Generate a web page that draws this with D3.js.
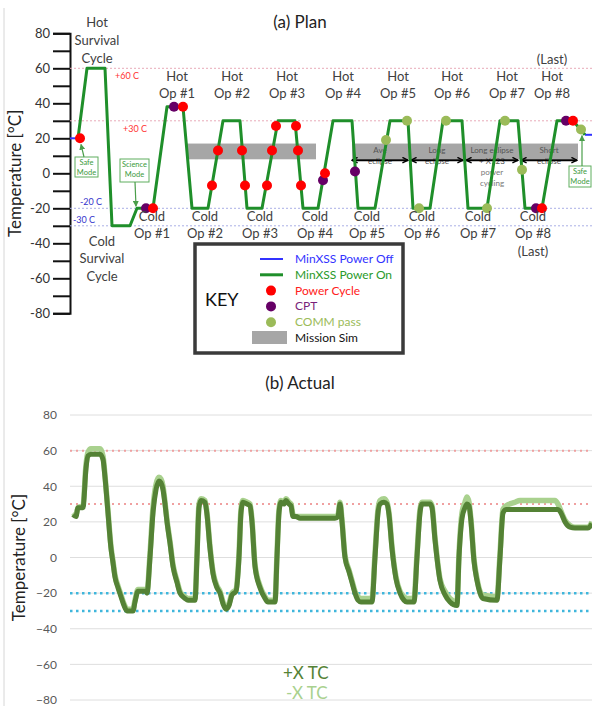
<!DOCTYPE html>
<html><head><meta charset="utf-8">
<script src="https://cdn.jsdelivr.net/npm/d3@7"></script>
<style>body{margin:0;background:#fff}svg{display:block;font-family:Lato,'Open Sans',sans-serif}</style>
</head><body><svg id="c" width="592" height="706"></svg>
<script>
// ---------------- DATA ----------------
const tempTicks = [-80, -60, -40, -20, 0, 20, 40, 60, 80];
const hotLimits = [60, 30];
const coldLimits = [-20, -30];
// (a) Plan: time (arbitrary units), temperature (°C)
const planPowerOff1 = [[0, 20], [8, 20]];
const planPowerOff2 = [[515, 22], [522, 22]];
const planPowerOn = [[8,20],[17,60],[35,60],[42,-30],[60,-30],[67,-20],[83,-20],[97,38],[113,38],[122,-20],[138,-20],[153,30],[170,30],[177,-20],[192,-20],[208,30],[225,30],[233,-20],[248,-20],[263,30],[282,30],[288,-20],[305,-20],[320,30],[338,30],[343,-20],[360,-20],[373,30],[392,30],[398,-20],[417,-20],[430,30],[448,30],[455,-20],[472,-20],[487,30],[503,30],[515,22]];
const powerCycle = [[10,20],[83,-20],[113,38],[142,-7],[148,13],[172,13],[175,-7],[197,-7],[202,13],[206,27],[226,27],[228,13],[231,-7],[255,0],[472,-20],[503,30]];
const cpt = [[76,-20],[104,38],[253,-4],[285,1],[466,-20],[496,30]];
const commPass = [[316,19],[337,30],[349,-20],[376,30],[417,-20],[435,30],[452,2],[511,25]];
const missionSim = [[117,246],[282,508]];
const missionSimTemp = [8, 17];
const eclipseArrows = [[282,338],[341,393],[396,448],[451,507]];
const eclipseLabels = [["Ave","eclipse"],["Long","eclipse"],["Long eclipse","+ X123","power","cycling"],["Short","eclipse"]];
const hotOps = ["Op #1","Op #2","Op #3","Op #4","Op #5","Op #6","Op #7","Op #8"];
const hotOpTime = [107,162,217,273,328,382,437,482];
const coldOps = ["Op #1","Op #2","Op #3","Op #4","Op #5","Op #6","Op #7","Op #8"];
const coldOpTime = [82,135,190,245,297,352,408,463];
const keyItems = ["MinXSS Power Off","MinXSS Power On","Power Cycle","CPT","COMM pass","Mission Sim"];
// (b) Actual
const plusXTC = [[3,24],[6,23],[8,28],[13,28],[16,50],[18,57],[21,58],[30,58],[33,55],[35,45],[38,25],[41,5],[43,-3],[45,-11],[48,-17],[51,-22],[54,-27],[57,-30],[63,-30],[65,-25],[68,-19],[76,-19],[77,-20],[80,0],[83,25],[86,38],[89,43],[91,42],[93,38],[95,30],[97,20],[100,8],[103,-5],[107,-14],[110,-20],[115,-23],[118,-24],[125,-24],[127,0],[129,28],[131,32],[135,31],[137,24],[140,5],[143,-9],[147,-17],[150,-20],[153,-26],[156,-29],[159,-27],[162,-21],[166,-19],[169,0],[171,25],[173,31],[177,30],[180,29],[182,20],[185,-5],[190,-17],[195,-23],[198,-25],[205,-25],[207,0],[209,25],[211,31],[214,30],[216,32],[219,30],[221,29],[223,23],[226,23],[230,22],[265,22],[268,23],[270,30],[272,20],[275,0],[279,-8],[282,-14],[285,-20],[288,-24],[291,-25],[302,-25],[305,0],[308,25],[310,30],[314,31],[317,30],[319,24],[322,5],[326,-12],[330,-20],[334,-24],[337,-25],[344,-25],[347,0],[350,25],[352,30],[360,30],[362,28],[365,10],[370,-13],[375,-21],[380,-25],[387,-27],[389,0],[392,22],[395,28],[397,30],[399,29],[401,20],[404,-2],[407,-13],[410,-20],[413,-23],[427,-24],[430,0],[433,25],[436,27],[450,27],[488,27],[491,25],[495,20],[500,17],[505,16.5],[518,16.5],[522,19]];
const minusXTC = [[3,25],[6,24],[8,28],[13,29],[16,52],[18,59],[21,61],[30,61],[33,57],[35,46],[38,26],[41,6],[43,-2],[45,-10],[48,-16],[51,-21],[54,-26],[57,-29],[63,-29],[65,-24],[68,-18],[76,-18],[77,-19],[80,2],[83,28],[86,41],[89,45],[91,44],[93,40],[95,31],[97,21],[100,9],[103,-4],[107,-13],[110,-19],[115,-22],[118,-23],[125,-23],[127,2],[129,30],[131,33],[135,32],[137,25],[140,6],[143,-8],[147,-16],[150,-19],[153,-25],[156,-28],[159,-26],[162,-20],[166,-18],[169,2],[171,27],[173,32],[177,31],[180,30],[182,21],[185,-4],[190,-16],[195,-22],[198,-24],[205,-24],[207,2],[209,27],[211,32],[214,31],[216,33],[219,31],[221,30],[223,24],[226,23],[230,23],[265,23],[268,24],[270,31],[272,21],[275,1],[279,-7],[282,-13],[285,-19],[288,-22],[291,-23],[302,-23],[305,2],[308,27],[310,32],[314,33],[317,31],[319,25],[322,6],[326,-11],[330,-19],[334,-22],[337,-23],[344,-23],[347,2],[350,27],[352,31],[360,31],[362,29],[365,11],[370,-12],[375,-19],[380,-23],[387,-25],[389,2],[392,25],[395,31],[397,34],[399,31],[401,21],[404,-1],[407,-12],[410,-19],[413,-21],[427,-22],[430,2],[433,27],[436,29],[445,31],[450,32],[485,32],[488,30],[491,26],[495,21],[500,18],[505,17],[518,17],[522,20]];

// ---------------- DRAW ----------------
const svg = d3.select("#c");
const C = {green:"#1f8f2a", blue:"#3232ff", red:"#ff0000", purple:"#660066", comm:"#9bbb59", gray:"#a6a6a6", text:"#404040"};
svg.append("line").attr("x1",4).attr("x2",4).attr("y1",8).attr("y2",706).attr("stroke","#d6d6d6");

const x = d3.scaleLinear().domain([0,522]).range([70,592]);
const yA = d3.scaleLinear().domain([-80,80]).range([313.3,33.3]);
const yB = d3.scaleLinear().domain([-80,80]).range([700,415]);

const defs = svg.append("defs");
defs.append("marker").attr("id","chev").attr("viewBox","0 0 10 10").attr("refX",9).attr("refY",5)
  .attr("markerWidth",7).attr("markerHeight",7).attr("markerUnits","userSpaceOnUse").attr("orient","auto-start-reverse")
  .append("path").attr("d","M1,1 L9,5 L1,9").attr("fill","none").attr("stroke","#000").attr("stroke-width",2);
defs.append("marker").attr("id","grn").attr("viewBox","0 0 10 10").attr("refX",9).attr("refY",5)
  .attr("markerWidth",5).attr("markerHeight",5).attr("orient","auto")
  .append("path").attr("d","M0,0 L10,5 L0,10 z").attr("fill","#4a9e4a");

// ---- (a) Plan ----
const gA = svg.append("g");
gA.append("text").attr("x",300).attr("y",28).attr("text-anchor","middle").attr("font-size",17).attr("fill","#222").text("(a) Plan");
const axA = d3.axisLeft(yA).tickValues(d3.range(-80,81,10)).tickSize(17).tickFormat(d => d % 20 === 0 ? d : "");
const gax = gA.append("g").attr("transform","translate(70,0)").call(axA);
gax.select(".domain").attr("stroke","#111").attr("stroke-width",2);
gax.selectAll(".tick line").attr("stroke","#111").attr("stroke-width",2);
gax.selectAll(".tick text").attr("font-size",13).attr("fill","#333").attr("font-family","Lato,'Open Sans',sans-serif").attr("x",-20);
gA.append("text").attr("transform",`translate(21,${yA(0)}) rotate(-90)`).attr("text-anchor","middle").attr("font-size",17).attr("fill","#222").text("Temperature [°C]");
hotLimits.forEach(v => gA.append("line").attr("x1",x(0)).attr("x2",x(522)).attr("y1",yA(v)).attr("y2",yA(v)).attr("stroke","#e8aab8").attr("stroke-dasharray","2,2"));
coldLimits.forEach(v => gA.append("line").attr("x1",x(0)).attr("x2",x(522)).attr("y1",yA(v)).attr("y2",yA(v)).attr("stroke","#aab0e6").attr("stroke-dasharray","2,2"));
gA.append("text").attr("x",115).attr("y",yA(60)+11).attr("font-size",9).attr("fill","#ff3333").text("+60 C");
gA.append("text").attr("x",123).attr("y",yA(30)+11).attr("font-size",9).attr("fill","#ff3333").text("+30 C");
gA.append("text").attr("x",80).attr("y",yA(-20)-3).attr("font-size",9).attr("fill","#3333cc").text("-20 C");
gA.append("text").attr("x",73).attr("y",yA(-30)-3).attr("font-size",9).attr("fill","#3333cc").text("-30 C");
missionSim.forEach(b => gA.append("rect").attr("x",x(b[0])).attr("width",x(b[1])-x(b[0]))
  .attr("y",yA(missionSimTemp[1])).attr("height",yA(missionSimTemp[0])-yA(missionSimTemp[1])).attr("fill",C.gray));
eclipseArrows.forEach((a,i) => {
  const cx = (x(a[0])+x(a[1]))/2;
  eclipseLabels[i].forEach((t,j) => gA.append("text").attr("x",cx).attr("y",153+j*11).attr("text-anchor","middle")
    .attr("font-size",8).attr("fill",j>=2?"#777":"#555").text(t));
  gA.append("line").attr("x1",x(a[0])).attr("x2",x(a[1])).attr("y1",yA(7.5)).attr("y2",yA(7.5))
    .attr("stroke","#000").attr("stroke-width",2).attr("marker-start","url(#chev)").attr("marker-end","url(#chev)");
});
const lineA = d3.line().x(d=>x(d[0])).y(d=>yA(d[1]));
[planPowerOff1, planPowerOff2].forEach(s => gA.append("path").attr("d",lineA(s)).attr("fill","none").attr("stroke",C.blue).attr("stroke-width",2));
gA.append("path").attr("d",lineA(planPowerOn)).attr("fill","none").attr("stroke",C.green).attr("stroke-width",3).attr("stroke-linejoin","round");
const dot = (arr,col) => gA.selectAll(null).data(arr).enter().append("circle").attr("cx",d=>x(d[0])).attr("cy",d=>yA(d[1])).attr("r",5).attr("fill",col);
dot(commPass,C.comm); dot(cpt,C.purple); dot(powerCycle,C.red);
function modeBox(bx,by,w,h,lines,ax1,ay1,ax2,ay2){
  gA.append("rect").attr("x",bx).attr("y",by).attr("width",w).attr("height",h).attr("fill","#fff").attr("stroke","#5fae5f").attr("stroke-width",1);
  lines.forEach((t,i)=>gA.append("text").attr("x",bx+w/2).attr("y",by+8+i*9.5).attr("text-anchor","middle").attr("font-size",7.5).attr("fill","#3c9a3c").text(t));
  gA.append("line").attr("x1",ax1).attr("y1",ay1).attr("x2",ax2).attr("y2",ay2).attr("stroke","#4a9e4a").attr("stroke-width",1.2).attr("marker-end","url(#grn)");
}
modeBox(75,157,23,20,["Safe","Mode"],84,157,x(10)+1,yA(20)+6);
modeBox(120,159,29,23,["Science","Mode"],135,182,x(66),yA(-20)-2);
modeBox(569,166,22,21,["Safe","Mode"],x(512),166,x(512),yA(25)+6);
const lbl = (cx,ys,lines) => lines.forEach((t,i)=>gA.append("text").attr("x",cx).attr("y",ys[i]).attr("text-anchor","middle").attr("font-size",13).attr("fill",C.text).text(t));
lbl(x(27),[27,45,63],["Hot","Survival","Cycle"]);
lbl(x(32),[246,263,281],["Cold","Survival","Cycle"]);
hotOps.forEach((o,i)=>lbl(x(hotOpTime[i]),[81,98],["Hot",o]));
gA.append("text").attr("x",x(hotOpTime[7])).attr("y",64).attr("text-anchor","middle").attr("font-size",13).attr("fill",C.text).text("(Last)");
coldOps.forEach((o,i)=>lbl(x(coldOpTime[i]),[221,238],["Cold",o]));
gA.append("text").attr("x",x(coldOpTime[7])).attr("y",256).attr("text-anchor","middle").attr("font-size",13).attr("fill",C.text).text("(Last)");
const kg = gA.append("g");
kg.append("rect").attr("x",195).attr("y",244).attr("width",208).attr("height",109).attr("fill","#fff").attr("stroke","#3a3a3a").attr("stroke-width",3.5);
kg.append("text").attr("x",205).attr("y",306).attr("font-size",18).attr("fill","#111").text("KEY");
const keyCol = ["#3232ff","#2a9a2a","#ff2020","#7a1f7a","#9bbb59","#111"];
keyItems.forEach((k,i)=>{
  const yy = 259 + i*15.8;
  kg.append("text").attr("x",295).attr("y",yy+4).attr("font-size",12).attr("fill",keyCol[i]).text(k);
  if(i===0) kg.append("line").attr("x1",260).attr("x2",283).attr("y1",yy).attr("y2",yy).attr("stroke",C.blue).attr("stroke-width",2);
  if(i===1) kg.append("line").attr("x1",260).attr("x2",283).attr("y1",yy).attr("y2",yy).attr("stroke",C.green).attr("stroke-width",3);
  if(i===2) kg.append("circle").attr("cx",271).attr("cy",yy).attr("r",5).attr("fill",C.red);
  if(i===3) kg.append("circle").attr("cx",271).attr("cy",yy).attr("r",5).attr("fill",C.purple);
  if(i===4) kg.append("circle").attr("cx",271).attr("cy",yy).attr("r",5).attr("fill",C.comm);
  if(i===5) kg.append("rect").attr("x",252).attr("y",yy-7).attr("width",35).attr("height",13).attr("fill",C.gray);
});

// ---- (b) Actual ----
const gB = svg.append("g");
gB.append("text").attr("x",300).attr("y",389).attr("text-anchor","middle").attr("font-size",17).attr("fill","#222").text("(b) Actual");
const axB = d3.axisLeft(yB).tickValues(tempTicks).tickSize(0).tickPadding(13);
const gbx = gB.append("g").attr("transform","translate(70,0)").call(axB);
gbx.select(".domain").remove();
gbx.selectAll(".tick text").attr("font-size",12).attr("fill","#595959").attr("font-family","Lato,'Open Sans',sans-serif");
tempTicks.forEach(v => gB.append("line").attr("x1",x(0)).attr("x2",x(522)).attr("y1",yB(v)).attr("y2",yB(v)).attr("stroke","#dedede"));
gB.append("text").attr("transform",`translate(25,${yB(0)}) rotate(-90)`).attr("text-anchor","middle").attr("font-size",17).attr("fill","#222").text("Temperature [°C]");
hotLimits.forEach(v => gB.append("line").attr("x1",x(0)).attr("x2",x(522)).attr("y1",yB(v)).attr("y2",yB(v)).attr("stroke","#f0a0a0").attr("stroke-width",2).attr("stroke-dasharray","2,4"));
coldLimits.forEach(v => gB.append("line").attr("x1",x(0)).attr("x2",x(522)).attr("y1",yB(v)).attr("y2",yB(v)).attr("stroke","#3fb6dc").attr("stroke-width",2.5).attr("stroke-dasharray","2.5,3.5"));
const lineB = d3.line().x(d=>x(d[0])).y(d=>yB(d[1])).curve(d3.curveMonotoneX);
gB.append("path").attr("d",lineB(minusXTC)).attr("fill","none").attr("stroke","#a9d18e").attr("stroke-width",5.5).attr("stroke-linejoin","round");
gB.append("path").attr("d",lineB(plusXTC)).attr("fill","none").attr("stroke","#548235").attr("stroke-width",5).attr("stroke-linejoin","round");
gB.append("text").attr("x",283).attr("y",679).attr("font-size",17).attr("fill","#548235").text("+X TC");
gB.append("text").attr("x",286).attr("y",699).attr("font-size",17).attr("fill","#a9d18e").text("-X TC");
</script></body></html>
